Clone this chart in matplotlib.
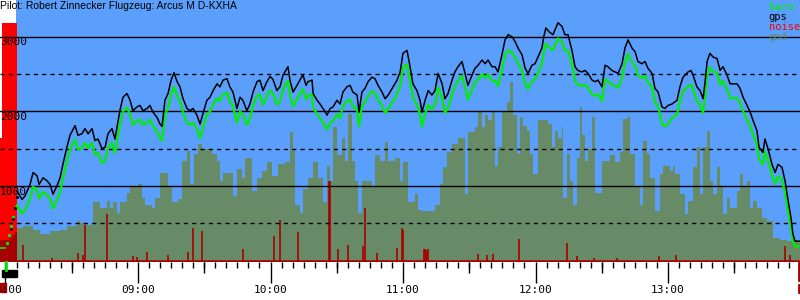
import matplotlib
matplotlib.use('Agg')
import matplotlib.pyplot as plt
import numpy as np
from matplotlib.patches import Rectangle
from matplotlib.transforms import blended_transform_factory

# times are minutes after 08:00, altitudes in metres
title = "Pilot: Robert Zinnecker Flugzeug: Arcus M D-KXHA"
hour_ticks = [0, 60, 120, 180, 240, 300]
hour_labels = ["08:00", "09:00", "10:00", "11:00", "12:00", "13:00"]
half_hour_ticks = [30, 90, 150, 210, 270, 330]
alt_solid = [1000, 2000, 3000]
alt_dashed = [500, 1500, 2500]

gps_time = [5.2, 7.5, 8.8, 11.1, 12.5, 14.3, 15.2, 17.0, 18.8, 20.2, 21.5, 23.3, 24.7, 26.0, 27.8, 29.2,
            31.5, 32.8, 34.6, 36.0, 37.4, 39.2, 40.5, 41.9, 43.7, 45.1, 46.4, 48.2, 49.6, 50.5, 51.8,
            53.2, 55.0, 56.4, 57.7, 59.5, 60.9,
            62.3, 64.1, 65.4, 66.8, 68.6, 70.0, 70.9, 72.2, 73.6, 75.0, 76.3, 77.7, 79.0, 80.4, 82.2,
            83.6, 84.9, 86.7, 88.1, 89.4, 91.2, 92.6, 94.0, 95.8, 97.1, 98.5, 100.3, 101.6, 103.0,
            104.8, 106.2, 107.5, 109.3, 110.7, 112.1, 113.9, 115.2, 116.6, 118.4, 119.8, 121.1,
            122.9, 124.3, 125.7, 127.9, 128.8, 130.2, 132.0, 133.3, 134.7, 136.1,
            137.0, 138.8, 139.3, 141.1, 142.4, 143.8, 145.6, 147.0, 148.3, 150.1,
            151.5, 152.8, 154.6, 156.0, 157.3, 159.2, 160.1, 161.4, 162.8, 164.2,
            166.0, 167.3, 168.7, 170.5, 171.9, 173.3, 175.1, 177.3, 178.7, 180.0,
            181.8, 183.2, 184.5, 186.3, 187.7, 188.6, 190.0, 191.4, 193.1, 194.5,
            195.9, 197.7, 199.0, 200.4, 202.2, 203.5, 204.9, 206.7, 208.1, 209.4,
            211.3, 212.6, 214.0, 215.8, 217.2, 218.5, 220.3, 221.7, 223.0,
            224.8, 226.2, 227.6, 229.4, 230.7, 232.1, 233.9, 235.3, 236.6, 238.4, 239.8,
            241.1, 242.9, 243.8, 244.7, 246.1, 247.9, 250.2, 252.0, 253.3, 254.7,
            256.5, 257.9, 259.2, 261.0, 262.4, 263.8, 265.6, 266.9, 268.3, 270.1,
            271.5, 272.8, 274.6, 276.0, 277.4, 279.2, 280.5, 281.9, 283.7, 285.1,
            286.4, 288.2, 289.6, 290.9, 292.8, 294.1, 295.5, 297.3, 298.6, 300.0,
            301.8, 304.1, 305.4, 306.8, 309.1, 310.4, 311.3, 313.1, 314.5, 315.9,
            316.8, 317.7, 319.0, 320.4, 322.2, 323.6, 324.9, 326.7, 328.1, 329.5,
            331.3, 332.6, 334.0, 335.8, 337.2, 338.5, 340.3, 341.2, 343.0, 343.9,
            345.3, 347.1, 348.5, 349.8, 351.6, 353.0, 354.4, 355.7, 356.6, 357.5, 359.9]

gps_alt = [930, 820, 865, 1020, 1180, 1135, 1020, 1110, 1070, 1020, 890, 1000, 1110, 1290, 1520, 1680,
           1810, 1680, 1700, 1770, 1700, 1770, 1610, 1630, 1500, 1520, 1700, 1770, 1630, 1790, 2010,
           2190, 2240, 2150, 2010, 2060, 2080,
           2010, 2040, 2080, 1990, 1920, 1830, 1800, 2150, 2240, 2420, 2520, 2400, 2330, 2170, 2040,
           2010, 2040, 1950, 1830, 1970, 2150, 2190, 2280, 2370, 2330, 2420, 2440, 2330, 2260,
           2040, 2190, 2150, 2010, 2100, 2260, 2400, 2420, 2280, 2400, 2470, 2430,
           2280, 2330, 2490, 2600, 2420, 2260, 2350, 2420, 2490, 2350,
           2400, 2420, 2240, 2150, 2100, 2040, 1950, 2040, 2060, 2150,
           2100, 2260, 2330, 2350, 2260, 2220, 1990, 2260, 2310, 2400,
           2460, 2440, 2350, 2260, 2170, 2220, 2310, 2420, 2530, 2780,
           2820, 2600, 2370, 2280, 2150, 1990, 2150, 2280, 2220, 2280,
           2510, 2370, 2170, 2240, 2420, 2530, 2600, 2670, 2510, 2350,
           2490, 2580, 2620, 2690, 2640, 2690, 2600, 2600, 2530,
           2760, 2960, 3030, 3000, 2940, 2850, 2760, 2580, 2510, 2620, 2640,
           2730, 2850, 3010, 3120, 3070, 3030, 3190, 3140, 3030, 3030,
           2820, 2600, 2550, 2530, 2550, 2510, 2420, 2400, 2420, 2330,
           2620, 2600, 2550, 2530, 2510, 2640, 2850, 2960, 2850, 2800,
           2670, 2640, 2670, 2580, 2510, 2310, 2260, 2060, 2040, 2080,
           2100, 2150, 2330, 2460, 2530, 2550, 2490, 2330, 2280, 2170,
           2400, 2670, 2780, 2730, 2710, 2550, 2600, 2490, 2370, 2370,
           2370, 2310, 2190, 2080, 1990, 1880, 1740, 1520, 1450, 1630,
           1500, 1290, 1180, 1290, 1250, 1070, 800, 570, 350, 260, 260]

baro_alt = [740, 630, 675, 830, 990, 945, 830, 920, 880, 830, 700, 810, 920, 1100, 1330, 1490,
            1620, 1490, 1510, 1580, 1510, 1580, 1420, 1440, 1310, 1330, 1510, 1580, 1440, 1600, 1820,
            2000, 2050, 1960, 1820, 1870, 1890,
            1820, 1850, 1890, 1800, 1730, 1640, 1610, 1960, 2050, 2230, 2330, 2210, 2140, 1980, 1850,
            1820, 1850, 1760, 1640, 1780, 1960, 2000, 2090, 2180, 2140, 2230, 2250, 2140, 2070,
            1850, 2000, 1960, 1820, 1910, 2070, 2210, 2230, 2090, 2210, 2280, 2240,
            2090, 2140, 2300, 2410, 2230, 2070, 2160, 2230, 2300, 2160,
            2210, 2230, 2050, 1960, 1910, 1850, 1760, 1850, 1870, 1960,
            1910, 2070, 2140, 2160, 2070, 2030, 1800, 2070, 2120, 2210,
            2270, 2250, 2160, 2070, 1980, 2030, 2120, 2230, 2340, 2590,
            2630, 2410, 2180, 2090, 1960, 1800, 1960, 2090, 2030, 2090,
            2320, 2180, 1980, 2050, 2230, 2340, 2410, 2480, 2320, 2160,
            2300, 2390, 2430, 2500, 2450, 2500, 2410, 2410, 2340,
            2550, 2750, 2820, 2790, 2730, 2640, 2550, 2370, 2300, 2410, 2430,
            2520, 2640, 2800, 2910, 2860, 2820, 2980, 2930, 2820, 2820,
            2630, 2410, 2360, 2340, 2360, 2320, 2230, 2210, 2230, 2140,
            2430, 2410, 2360, 2340, 2320, 2450, 2660, 2770, 2660, 2610,
            2480, 2450, 2480, 2390, 2320, 2120, 2070, 1830, 1800, 1830,
            1910, 1960, 2140, 2270, 2340, 2360, 2300, 2140, 2090, 1980,
            2210, 2480, 2590, 2540, 2520, 2360, 2410, 2300, 2180, 2180,
            2180, 2120, 2000, 1890, 1800, 1690, 1560, 1360, 1290, 1460,
            1340, 1140, 1030, 1130, 1090, 900, 640, 430, 260, 190, 190]

# before the launch
pre_baro_time = [-2.5, -0.2, 0.6, 1.6, 2.6, 3.6, 4.6]
pre_baro_alt = [165, 165, 240, 340, 460, 590, 720]
pre_gps_time = [2.6, 3.4, 4.2, 5.0]
pre_gps_alt = [420, 560, 700, 850]

gnd_time = [5.4, 7.9, 12.5, 15.6, 20.2, 24.7, 27.8, 32.4, 33.7, 36.9, 39.6, 42.8, 45.9, 47.3, 48.7,
            50.5, 51.8, 55.0, 56.4,
            60.0, 61.8, 63.2, 66.3, 67.7, 70.0, 73.6, 75.4, 78.1, 79.9, 82.2, 83.6, 85.4, 87.2,
            89.0, 93.5, 95.8, 97.1, 98.5, 103.0, 104.8, 107.1, 108.4, 111.6, 113.9, 116.2, 118.4, 120.7,
            123.4, 126.6, 128.8, 130.2, 131.1, 133.4, 134.7, 137.0, 139.3, 141.5, 143.8, 145.6, 147.0,
            148.3, 150.1, 152.4, 153.7, 155.1, 156.9, 158.3, 159.6, 161.4, 166.0, 167.3, 169.6, 171.9,
            173.2, 176.4, 178.6, 180.0,
            182.3, 185.4, 186.8, 188.6, 194.5, 196.7, 198.1, 199.9, 202.2, 204.9, 208.1, 209.4, 212.6,
            214.0, 215.8, 217.2, 218.5, 220.3, 221.7, 223.0, 224.8, 227.1, 228.5, 229.8, 231.6, 233.0,
            234.4, 236.2, 237.5, 238.9, 241.1,
            245.7, 247.5, 248.8, 250.2, 252.0, 252.5, 254.3, 255.6, 257.0, 258.8, 260.2, 261.1, 262.4,
            263.8, 265.6, 267.0, 270.1, 273.8, 276.0, 278.3, 279.6, 281.4, 282.8, 285.1, 287.3, 288.7,
            290.5, 291.8, 294.1, 296.4, 297.7, 300.9, 302.3,
            303.2, 305.4, 307.7, 309.1, 311.3, 313.1, 314.5, 315.9, 317.7, 319.0, 320.4, 322.2, 323.6,
            324.9, 326.7, 328.1, 331.2, 332.6, 334.0, 335.8, 337.2, 338.5, 340.3, 342.6, 344.9, 347.6,
            350.8, 354.0, 359.9]
gnd_alt = [440, 460, 410, 350, 390, 410, 460, 530, 500, 480, 780, 710, 800, 710, 780,
           640, 780, 910, 1000,
           1020, 840, 750, 710, 840, 1180, 980, 780, 820, 1340, 1470, 1020, 1430, 1560,
           1500, 1430, 1340, 1070, 1180, 870, 1230, 1110, 1380, 930, 1110, 1200, 1320, 1140,
           1290, 1320, 1720, 1470, 750, 640, 960, 1110, 1320, 1110, 780, 1270, 1070,
           1790, 1410, 1650, 1340, 1970, 1340, 1070, 640, 1070, 980, 1410, 1340, 1590,
           1340, 1380, 1070, 1320,
           780, 890, 680, 660, 750, 1020, 1250, 1450, 1560, 1650, 890, 1720, 1790,
           1990, 1790, 1950, 1880, 1990, 1270, 1520, 1990, 2130, 2400, 1950, 1430, 1920,
           1810, 1740, 1430, 1160, 1880,
           1830, 1520, 1740, 1650, 1790, 840, 1430, 1070, 750, 1380, 2060, 1680, 1340,
           1500, 1920, 910, 1340, 1410, 1320, 1450, 1900, 1920, 1430, 980, 750, 1610,
           1430, 1110, 660, 1160, 1270, 1200, 1270,
           1160, 890, 620, 800, 1250, 1520, 890, 1520, 1740, 1070, 890, 1250, 980,
           620, 840, 710, 930, 1160, 980, 1070, 710, 800, 710, 570, 530, 300,
           280, 260, 260]
pre_gnd_time = [-2.5, 1.5, 3.0, 4.5, 5.4]
pre_gnd_alt = [270, 300, 340, 380, 380]

noise_time = [7.9, 21.1, 32.8, 35.1, 36.0, 46.0, 57.7, 59.5, 64.1, 73.6, 82.6, 84.9, 89.0, 107.5,
              121.6, 124.3, 132.4, 146.5, 146.9, 150.6, 155.1, 161.9, 162.8, 168.2, 177.3, 179.5,
              180.0, 189.5, 190.0, 190.4, 190.9, 191.3, 214.0, 218.0, 220.8, 232.5, 254.3, 258.8,
              266.5, 276.9, 295.9, 303.6, 353.0, 355.2]
noise_level = [210, 30, 100, 80, 480, 620, 60, 50, 110, 80, 110, 440, 390, 150,
               330, 540, 380, 1070, 1070, 150, 210, 190, 700, 100, 170, 440,
               410, 150, 150, 140, 120, 150, 90, 70, 90, 290, 230, 55,
               40, 40, 55, 80, 190, 80]
# engine / noise block at the start
noise_block_time = [-2.5, -1.6, 5.4]
noise_block_level = [1640, 3190, 3190]
trace_start = 4.75

SKY = '#5b9ffc'
GND = '#678b67'
BARO = '#00ee00'
NOISE = '#ff0000'
SPIKE = '#a80000'

fig = plt.figure(figsize=(8, 3), dpi=100)
ax = fig.add_axes([0, 38 / 300, 1, 262 / 300])
ax.set_facecolor('white')
ax.set_xlim(-2.49, 359.77)
ax.set_ylim(-20, 3495)
for s in ax.spines.values():
    s.set_visible(False)

ax.axvspan(trace_start, 360, color=SKY, lw=0, zorder=0)
ax.fill_between(noise_block_time, 0, noise_block_level, step='post', color=NOISE, lw=0, zorder=1)
ax.fill_between(pre_gnd_time, 0, pre_gnd_alt, step='post', color=SPIKE, lw=0, zorder=1)
ax.fill_between(gnd_time, 0, gnd_alt, step='post', color=GND, lw=0, zorder=1)
ax.vlines(noise_time, 0, noise_level, color=SPIKE, lw=1.2, zorder=2)
ax.axhline(0, color=SPIKE, lw=1.8, zorder=2)

# grid
for v in alt_solid:
    ax.axhline(v, color='black', lw=1, zorder=3)
    ax.text(0.0, v - 8, str(v), transform=blended_transform_factory(ax.transAxes, ax.transData),
            ha='left', va='top', fontsize=8, family='DejaVu Sans Mono', zorder=3)
for v in alt_dashed:
    ax.axhline(v, color='black', lw=1, ls=(0, (3, 3)), zorder=3)

ax.plot(pre_baro_time[:2], pre_baro_alt[:2], color=BARO, lw=1.2, zorder=4)
ax.plot(pre_baro_time[2:], pre_baro_alt[2:], ls='none', marker='s', ms=1.2, color=BARO, zorder=4)
ax.plot(pre_gps_time, pre_gps_alt, ls='none', marker='s', ms=1.0, color='black', zorder=4)
ax.plot(gps_time, baro_alt, color=BARO, lw=1.6, zorder=4)
ax.plot(gps_time, gps_alt, color='black', lw=1.1, zorder=5)

# legend
legend = [('baro', BARO), ('gps', 'black'), ('noise', NOISE), ('gnd', GND)]
for i, (name, col) in enumerate(legend):
    ax.text(0.961, 1 - (2 + 10 * i) / 262, name, transform=ax.transAxes, color=col,
            ha='left', va='top', fontsize=7.5, family='DejaVu Sans Mono', zorder=6)

# time axis
ax.set_xticks(hour_ticks)
ax.set_xticklabels(hour_labels, family='DejaVu Sans Mono', fontsize=8)
ax.set_xticks(np.arange(0, 360, 5), minor=True)
ax.tick_params(axis='x', which='major', length=15, width=1, pad=1.5, color='black')
ax.tick_params(axis='x', which='minor', length=4.3, width=1, color='black')
ax.set_yticks([])
sec = ax.secondary_xaxis('bottom')
sec.set_xticks(half_hour_ticks)
sec.set_xticklabels([])
sec.tick_params(length=8, width=1, color='black')
for s in sec.spines.values():
    s.set_visible(False)

# launch / landing markers under the axis
bt = blended_transform_factory(ax.transData, ax.transAxes)
ax.add_patch(Rectangle((-1.6, -15 / 262), 7.0, 7 / 262, transform=bt, color='black', clip_on=False))
ax.add_patch(Rectangle((-2.5, -30 / 262), 2.7, 9 / 262, transform=bt, color=SPIKE, clip_on=False))
ax.plot([0.2, 0.2], [0, -8 / 262], transform=bt, color=BARO, lw=2, clip_on=False)
ax.plot([359.3, 359.3], [0, -18 / 262], transform=bt, color=SPIKE, lw=2, clip_on=False)
ax.plot([359.3, 359.3], [-23 / 262, -30 / 262], transform=bt, color=SPIKE, lw=2, clip_on=False)

fig.text(0.0, 1 - 1 / 300, title, ha='left', va='top', fontsize=7.5, family='Liberation Sans')

fig.savefig('out.png', dpi=100)
